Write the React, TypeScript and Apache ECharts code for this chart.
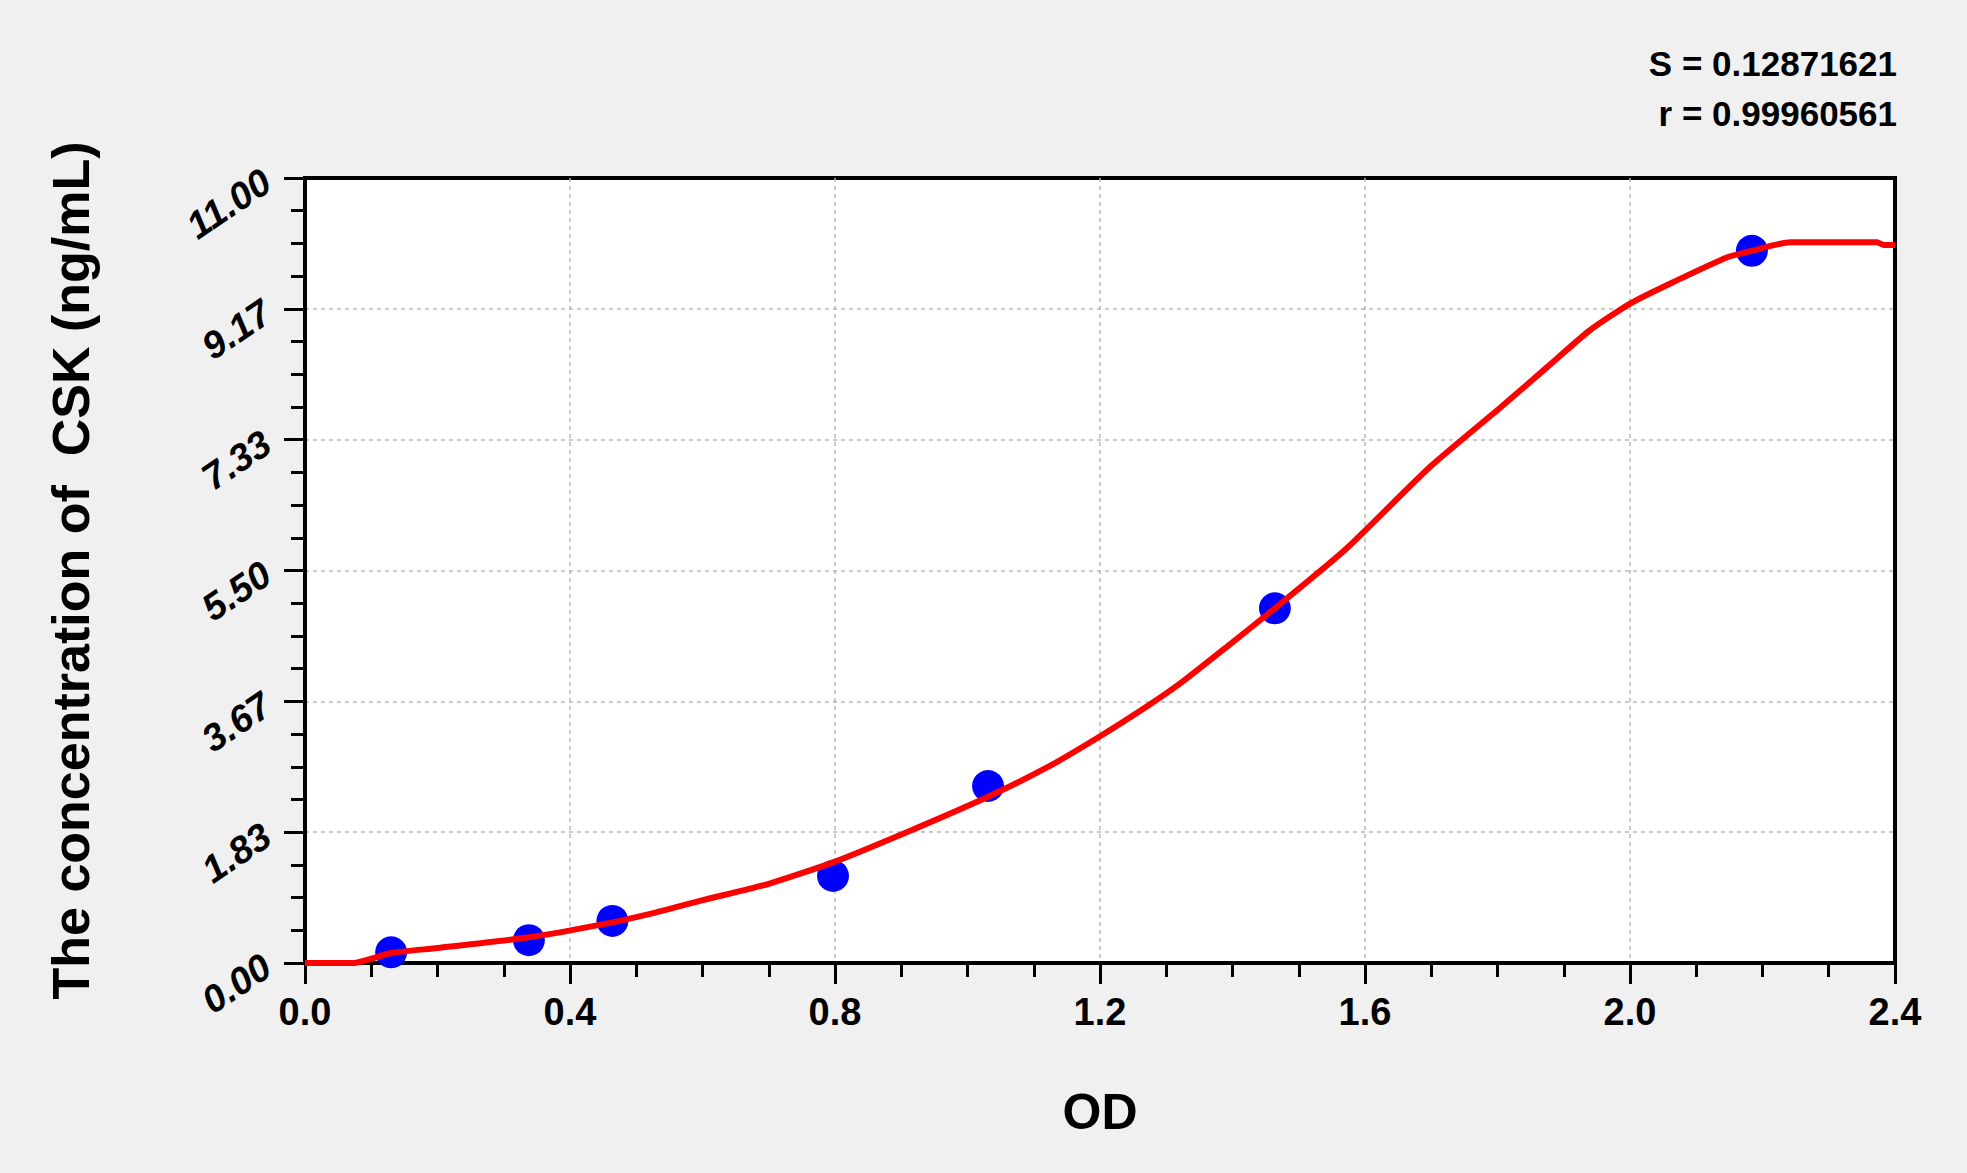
import React, { useEffect, useRef } from 'react';
import * as echarts from 'echarts';

// standard points (OD, concentration)
const stdOD = [0.13, 0.338, 0.464, 0.797, 1.031, 1.464, 2.184];
const stdConc = [0.15, 0.32, 0.59, 1.22, 2.48, 4.97, 9.98];

// fitted curve
const curveOD = [
  0, 0.072, 0.13, 0.2, 0.338, 0.464, 0.53, 0.596, 0.7, 0.797, 0.91, 1.031, 1.12, 1.199,
  1.27, 1.32, 1.39, 1.464, 1.57, 1.698, 1.804, 1.875, 1.94, 2.002, 2.065, 2.147, 2.184,
  2.242, 2.373, 2.383, 2.4
];
const curveConc = [
  0, 0, 0.14, 0.21, 0.36, 0.57, 0.71, 0.87, 1.11, 1.41, 1.84, 2.33, 2.74, 3.17,
  3.59, 3.91, 4.42, 4.97, 5.79, 6.95, 7.78, 8.35, 8.87, 9.25, 9.54, 9.89, 9.98,
  10.1, 10.1, 10.06, 10.06
];

const yTickLabels = ['0.00', '1.83', '3.67', '5.50', '7.33', '9.17', '11.00'];
const statLines = ['S = 0.12871621', 'r = 0.99960561'];

const FONT = '"Liberation Sans", Arial, sans-serif';

const App: React.FC = () => {
  const chartRef = useRef<HTMLDivElement>(null);

  useEffect(() => {
    if (!chartRef.current) return;
    const chart = echarts.init(chartRef.current, undefined, { renderer: 'svg' });

    const split = {
      show: true,
      showMinLine: false,
      showMaxLine: false,
      lineStyle: { color: '#b8b8b8', width: 1.5, type: [4, 4] }
    };

    const option = {
      animation: false,
      backgroundColor: '#f0f0f0',
      grid: {
        left: 305,
        top: 178,
        right: 72,
        bottom: 210,
        show: true,
        backgroundColor: '#ffffff',
        borderColor: '#000000',
        borderWidth: 4
      },
      graphic: statLines.map((t, i) => ({
        type: 'text',
        right: 70,
        top: 46 + i * 50,
        style: {
          text: t,
          fill: '#000',
          font: `bold 35px ${FONT}`,
          textAlign: 'right'
        }
      })),
      xAxis: {
        type: 'value',
        min: 0,
        max: 2.4,
        interval: 0.4,
        name: 'OD',
        nameLocation: 'middle',
        nameGap: 124,
        nameTextStyle: { fontFamily: FONT, fontWeight: 'bold', fontSize: 50, color: '#000' },
        axisLine: { show: true, onZero: false, lineStyle: { color: '#000', width: 4 } },
        axisTick: { show: true, length: 21, lineStyle: { color: '#000', width: 3 } },
        minorTick: { show: true, splitNumber: 4, length: 14, lineStyle: { color: '#000', width: 3 } },
        axisLabel: {
          margin: 30,
          fontFamily: FONT,
          fontWeight: 'bold',
          fontSize: 38,
          color: '#000',
          formatter: (v: number) => v.toFixed(1)
        },
        splitLine: split
      },
      yAxis: {
        type: 'value',
        min: 0,
        max: 11,
        interval: 11 / 6,
        name: 'The concentration of  CSK (ng/mL)',
        nameLocation: 'middle',
        nameGap: 208,
        nameTextStyle: { fontFamily: FONT, fontWeight: 'bold', fontSize: 52, color: '#000' },
        axisLine: { show: true, onZero: false, lineStyle: { color: '#000', width: 4 } },
        axisTick: { show: true, length: 21, lineStyle: { color: '#000', width: 3 } },
        minorTick: { show: true, splitNumber: 4, length: 14, lineStyle: { color: '#000', width: 3 } },
        axisLabel: {
          margin: 38,
          rotate: 34,
          fontFamily: FONT,
          fontWeight: 'bold',
          fontStyle: 'italic',
          fontSize: 38,
          color: '#000',
          formatter: (_v: number, i: number) => yTickLabels[i] ?? ''
        },
        splitLine: split
      },
      series: [
        {
          name: 'standards',
          type: 'scatter',
          symbol: 'circle',
          symbolSize: 32,
          itemStyle: { color: '#0000ff', opacity: 1 },
          z: 2,
          data: stdOD.map((x, i) => [x, stdConc[i]])
        },
        {
          name: 'fit',
          type: 'line',
          showSymbol: false,
          symbol: 'none',
          smooth: 0.2,
          lineStyle: { color: '#ff0000', width: 6 },
          z: 3,
          data: curveOD.map((x, i) => [x, curveConc[i]])
        }
      ]
    };

    chart.setOption(option);
    return () => {
      chart.dispose();
    };
  }, []);

  return (
    <div
      ref={chartRef}
      style={{ position: 'absolute', left: 0, top: 0, width: '1967px', height: '1173px' }}
    />
  );
};

export default App;
